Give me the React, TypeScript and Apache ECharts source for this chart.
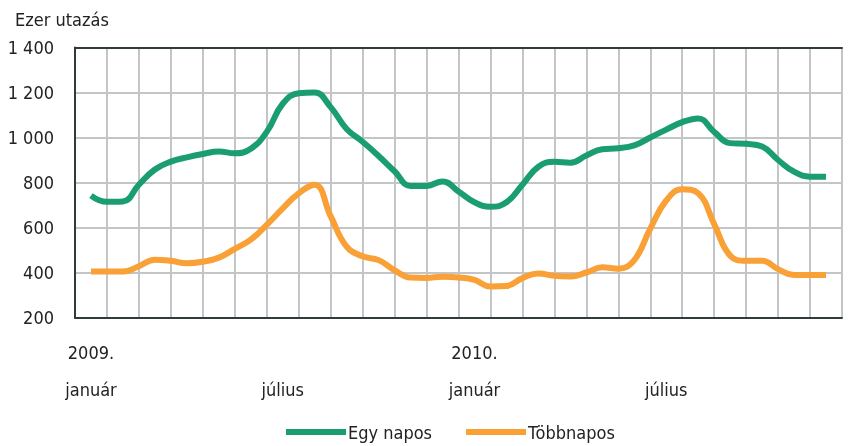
import React, { useEffect, useRef } from "react";
import * as echarts from "echarts";

const months = [
  "2009-01", "2009-02", "2009-03", "2009-04", "2009-05", "2009-06",
  "2009-07", "2009-08", "2009-09", "2009-10", "2009-11", "2009-12",
  "2010-01", "2010-02", "2010-03", "2010-04", "2010-05", "2010-06",
  "2010-07", "2010-08", "2010-09", "2010-10", "2010-11", "2010-12",
];
const monthLabels: Record<number, string> = {
  0: "2009.\n\njanuár",
  6: "\n\njúlius",
  12: "2010.\n\njanuár",
  18: "\n\njúlius",
};
const yTicks = [200, 400, 600, 800, 1000, 1200, 1400];

// half-month readings, first at mid-January 2009
const egyNapos = [
  742, 714, 716, 790, 858, 893, 912, 927, 938, 930,
  950, 1025, 1150, 1197, 1200, 1135, 1038, 981, 918, 850,
  785, 785, 805, 760, 712, 692, 712, 790, 870, 892,
  888, 920, 948, 952, 965, 1000, 1035, 1068, 1085, 1025,
  975, 972, 960, 900, 848, 826, 826,
];
const tobbNapos = [
  404, 404, 404, 428, 457, 452, 441, 448, 466, 505,
  546, 612, 685, 752, 790, 650, 515, 472, 455, 410,
  378, 376, 381, 378, 367, 338, 340, 375, 396, 385,
  382, 400, 423, 417, 455, 595, 720, 770, 752, 615,
  475, 452, 452, 415, 389, 389, 389,
];

const FONT = "'Liberation Sans Narrow', 'DejaVu Sans Condensed', 'Arial Narrow', sans-serif";
const GREEN = "#1a9e70";
const ORANGE = "#f9a036";
const FS = 18;

export default function App() {
  const ref = useRef<HTMLDivElement>(null);
  useEffect(() => {
    if (!ref.current) return;
    const chart = echarts.init(ref.current, null, { renderer: "svg" });
    const pos = (i: number) => 0.5 + i * 0.5;
    chart.setOption({
      animation: false,
      textStyle: { fontFamily: FONT },
      title: {
        text: "Ezer utazás",
        left: 10,
        top: 5,
        textStyle: { fontFamily: FONT, fontSize: FS, fontWeight: "normal", color: "#222" },
      },
      legend: {
        bottom: 0,
        left: 281,
        itemWidth: 60,
        itemHeight: 6,
        itemGap: 34,
        icon: "rect",
        textStyle: { fontFamily: FONT, fontSize: FS, color: "#222", padding: [0, 0, 0, -3] },
        data: ["Egy napos", "Többnapos"],
      },
      grid: { left: 75, right: 22, top: 47.5, bottom: 128.5, containLabel: false },
      xAxis: [
        {
          type: "category",
          data: months,
          boundaryGap: true,
          position: "bottom",
          axisLine: { show: true, lineStyle: { color: "#2f3a3d", width: 2 } },
          axisTick: { show: false },
          splitLine: { show: true, interval: 0, lineStyle: { color: "#c3c5c8", width: 2 } },
          axisLabel: {
            interval: 0,
            margin: 26,
            fontFamily: FONT,
            fontSize: FS,
            color: "#222",
            lineHeight: 18.5,
            formatter: (_v: string, i: number) => monthLabels[i] ?? "",
          },
        },
        {
          type: "value",
          min: 0,
          max: 24,
          position: "top",
          axisLine: { show: true, onZero: false, lineStyle: { color: "#2f3a3d", width: 2 } },
          axisTick: { show: false },
          axisLabel: { show: false },
          splitLine: { show: false },
        },
      ],
      yAxis: {
        type: "value",
        min: 200,
        max: 1400,
        interval: 200,
        axisLine: { show: true, lineStyle: { color: "#2f3a3d", width: 2 } },
        axisTick: { show: false },
        splitLine: { show: true, lineStyle: { color: "#c3c5c8", width: 2 } },
        axisLabel: {
          margin: 21,
          fontFamily: FONT,
          fontSize: FS,
          color: "#222",
          formatter: (v: number) =>
            yTicks.includes(v) ? String(v).replace(/\B(?=(\d{3})+(?!\d))/g, " ") : "",
        },
      },
      series: [
        {
          name: "Egy napos",
          type: "line",
          xAxisIndex: 1,
          data: egyNapos.map((v, i) => [pos(i), v]),
          smooth: 0.45,
          showSymbol: false,
          lineStyle: { color: GREEN, width: 6 },
          itemStyle: { color: GREEN },
          z: 3,
        },
        {
          name: "Többnapos",
          type: "line",
          xAxisIndex: 1,
          data: tobbNapos.map((v, i) => [pos(i), v]),
          smooth: 0.45,
          showSymbol: false,
          lineStyle: { color: ORANGE, width: 6 },
          itemStyle: { color: ORANGE },
          z: 3,
        },
      ],
    });
    return () => chart.dispose();
  }, []);
  return (
    <div
      ref={ref}
      style={{ position: "fixed", left: 0, top: 0, width: 864, height: 446 }}
    />
  );
}
